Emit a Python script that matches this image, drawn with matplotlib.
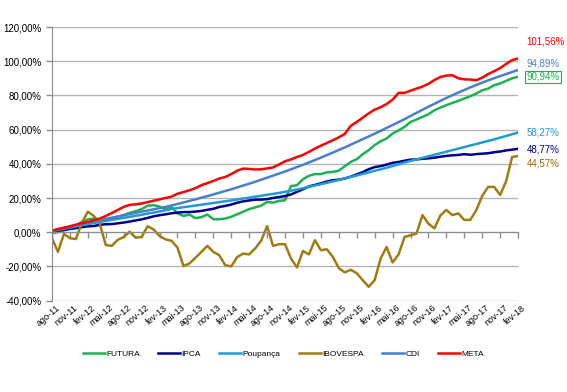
import matplotlib
matplotlib.use('Agg')
from matplotlib import pyplot as plt

plt.rcParams['font.family'] = ['Liberation Sans', 'DejaVu Sans']

# eixo x: ago-11 .. fev-18 (mensal)
meses = ['jan', 'fev', 'mar', 'abr', 'mai', 'jun', 'jul', 'ago', 'set', 'out', 'nov', 'dez']
datas = []
for ano in range(11, 19):
    for m in meses:
        datas.append('%s-%d' % (m, ano))
datas = datas[7:7 + 79]

futura = [-0.5, 0.0, 1.0, 2.5, 4.0, 6.0, 7.5, 8.0, 7.0, 6.8, 8.0, 9.0, 10.0, 11.3, 12.3, 13.5,
          15.5, 15.8, 15.0, 13.3, 14.8, 11.0, 9.5, 10.3, 8.2, 8.8, 10.3, 7.6, 7.6, 8.0, 9.0, 10.5,
          12.0, 13.5, 14.5, 15.5, 17.7, 17.3, 18.3, 18.7, 27.0, 27.5, 31.0, 33.0, 34.0, 34.0, 35.0,
          35.3, 36.0, 38.6, 41.1, 42.7, 45.6, 48.0, 50.9, 53.2, 54.8, 57.7, 59.6, 61.6, 64.5, 65.9,
          67.4, 69.0, 71.3, 72.9, 74.3, 75.6, 76.8, 78.2, 79.5, 81.1, 83.0, 84.0, 86.0, 87.0, 88.5,
          90.0, 90.94]
ipca = [0.37, 0.90, 1.34, 1.87, 2.38, 2.95, 3.41, 3.63, 4.29, 4.67, 4.75, 5.20, 5.63, 6.23, 6.86,
        7.50, 8.35, 9.28, 9.94, 10.46, 11.06, 11.47, 11.76, 11.79, 12.06, 12.45, 13.09, 13.70,
        14.75, 15.38, 16.18, 17.25, 18.03, 18.57, 19.04, 19.05, 19.35, 20.03, 20.53, 21.15, 22.09,
        23.61, 25.12, 26.77, 27.67, 28.61, 29.63, 30.43, 30.72, 31.43, 32.50, 33.84, 35.12, 36.84,
        38.07, 38.66, 39.51, 40.60, 41.09, 41.82, 42.44, 42.56, 42.93, 43.18, 43.61, 44.16, 44.63,
        44.99, 45.19, 45.64, 45.31, 45.66, 45.94, 46.17, 46.78, 47.19, 47.84, 48.27, 48.77]
poupanca = [0.6, 1.3, 2.0, 2.7, 3.4, 4.1, 4.8, 5.4, 6.0, 6.6, 7.2, 7.8, 8.4, 9.0, 9.6, 10.2, 10.9,
            11.5, 12.1, 12.8, 13.6, 14.1, 14.6, 15.1, 15.6, 16.1, 16.6, 17.1, 17.6, 18.1, 18.6,
            19.1, 19.7, 20.2, 20.8, 21.3, 21.9, 22.4, 23.0, 23.6, 24.3, 25.0, 25.7, 26.5, 27.3,
            28.1, 28.9, 29.7, 30.5, 31.4, 32.3, 33.2, 34.1, 35.0, 35.9, 36.8, 37.7, 38.7, 39.7,
            40.8, 41.7, 42.6, 43.5, 44.4, 45.3, 46.2, 47.1, 48.0, 48.9, 49.8, 50.7, 51.6, 52.5,
            53.4, 54.3, 55.3, 56.3, 57.3, 58.27]
ibovespa = [-3.5, -11.5, -1.0, -3.5, -4.0, 5.5, 12.0, 9.5, 5.0, -7.5, -8.0, -4.5, -2.8, 0.3, -3.2,
            -2.8, 3.5, 1.6, -2.2, -4.2, -5.0, -9.0, -19.8, -18.3, -15.0, -11.5, -8.0, -11.5, -13.5,
            -19.3, -20.0, -14.5, -12.5, -13.0, -9.5, -5.0, 3.5, -8.0, -7.0, -7.0, -15.4, -20.6,
            -11.0, -13.0, -4.7, -10.5, -10.0, -14.4, -21.0, -23.5, -22.0, -24.0, -28.0, -32.0,
            -28.0, -15.4, -8.6, -17.7, -13.0, -2.8, -1.8, -0.8, 10.0, 5.0, 2.2, 9.8, 13.0, 10.0,
            11.0, 7.2, 7.2, 12.8, 21.2, 26.5, 26.5, 21.8, 29.8, 44.0, 44.57]
cdi = [0.8, 1.7, 2.5, 3.3, 4.1, 4.9, 5.7, 6.4, 7.1, 7.8, 8.5, 9.2, 9.9, 10.6, 11.3, 12.0, 12.7,
       13.4, 14.1, 14.8, 15.6, 16.5, 17.4, 18.3, 19.2, 20.2, 21.1, 22.1, 23.1, 24.1, 25.1, 26.2,
       27.3, 28.4, 29.5, 30.7, 31.9, 33.1, 34.3, 35.5, 36.8, 38.1, 39.4, 40.8, 42.2, 43.6, 45.1,
       46.6, 48.1, 49.6, 51.2, 52.8, 54.4, 56.0, 57.6, 59.3, 61.0, 62.7, 64.4, 66.1, 68.0, 69.8,
       71.6, 73.4, 75.1, 76.8, 78.5, 80.1, 81.7, 83.2, 84.7, 86.1, 87.5, 88.8, 90.1, 91.3, 92.5,
       93.7, 94.89]
meta = [0.9, 1.8, 2.6, 3.5, 4.4, 5.3, 6.0, 7.0, 8.0, 9.5, 11.2, 13.0, 14.8, 16.0, 16.3, 16.8,
        17.6, 18.4, 19.2, 20.0, 20.8, 22.5, 23.5, 24.5, 25.8, 27.5, 28.7, 30.0, 31.4, 32.3, 34.0,
        36.0, 37.2, 37.0, 36.7, 36.8, 37.3, 37.9, 39.6, 41.5, 42.6, 44.0, 45.2, 47.0, 48.9, 50.6,
        52.2, 53.8, 55.5, 57.5, 62.2, 64.5, 67.0, 69.5, 71.7, 73.1, 75.0, 77.5, 81.5, 81.5, 82.8,
        84.0, 85.2, 86.8, 89.0, 90.8, 91.6, 91.8, 90.0, 89.4, 89.3, 88.9, 90.4, 92.5, 94.2, 96.0,
        98.4, 100.7, 101.56]

series = [('FUTURA', futura, '#1db152'), ('IPCA', ipca, '#00008b'),
          ('Poupança', poupanca, '#1f9ad6'), ('IBOVESPA', ibovespa, '#a07c12'),
          ('CDI', cdi, '#4a7fc9'), ('META', meta, '#ff0000')]

# rótulos finais (texto, posição y, cor, caixa)
rotulos = [('101,56%', 111.3, '#ff0000', False), ('94,89%', 98.8, '#4a7fc9', False),
           ('90,94%', 90.8, '#1db152', True), ('58,27%', 58.1, '#1f9ad6', False),
           ('48,77%', 48.4, '#00008b', False), ('44,57%', 40.2, '#9c6200', False)]

fig = plt.figure(figsize=(5.67, 3.92), dpi=100)
ax = fig.add_axes([0.0917, 0.2332, 0.822, 0.6978])

x = list(range(len(datas)))
for nome, vals, cor in series:
    ax.plot(x, vals, color=cor, lw=1.8, label=nome, solid_joinstyle='round')

ax.set_xlim(0, len(datas) - 1)
ax.set_ylim(-40, 120)
yt = list(range(-40, 121, 20))
ax.set_yticks(yt)
ax.set_yticklabels(['%d,00%%' % v for v in yt], fontsize=7)
ax.yaxis.grid(True, color='#b4b4b4', lw=1)
ax.set_axisbelow(True)

for s in ['top', 'right']:
    ax.spines[s].set_visible(False)
ax.spines['left'].set_color('#8c8c8c')
ax.spines['bottom'].set_position(('data', 0))
ax.spines['bottom'].set_color('#8c8c8c')
ax.tick_params(axis='y', colors='#8c8c8c', labelcolor='black', length=4, width=1)

ax.set_xticks(x[::3])
ax.tick_params(axis='x', colors='#8c8c8c', length=4, width=1, labelbottom=False)
for i in x[::3]:
    ax.text(i + 0.6, -41.5, datas[i], rotation=40, ha='right', va='top', fontsize=6.5,
            rotation_mode='anchor', clip_on=False)

for txt, yv, cor, caixa in rotulos:
    bb = dict(boxstyle='square,pad=0.15', fc='white', ec=cor, lw=0.8) if caixa else None
    ax.text(79.4, yv, txt, color=cor, fontsize=7, va='center', ha='left', clip_on=False, bbox=bb)

fig.legend(loc='center', bbox_to_anchor=(0.5, 0.097), ncol=6, frameon=False, fontsize=6,
           handlelength=2.6, columnspacing=2.2, handletextpad=0.2)

fig.savefig('out.png', dpi=100)
